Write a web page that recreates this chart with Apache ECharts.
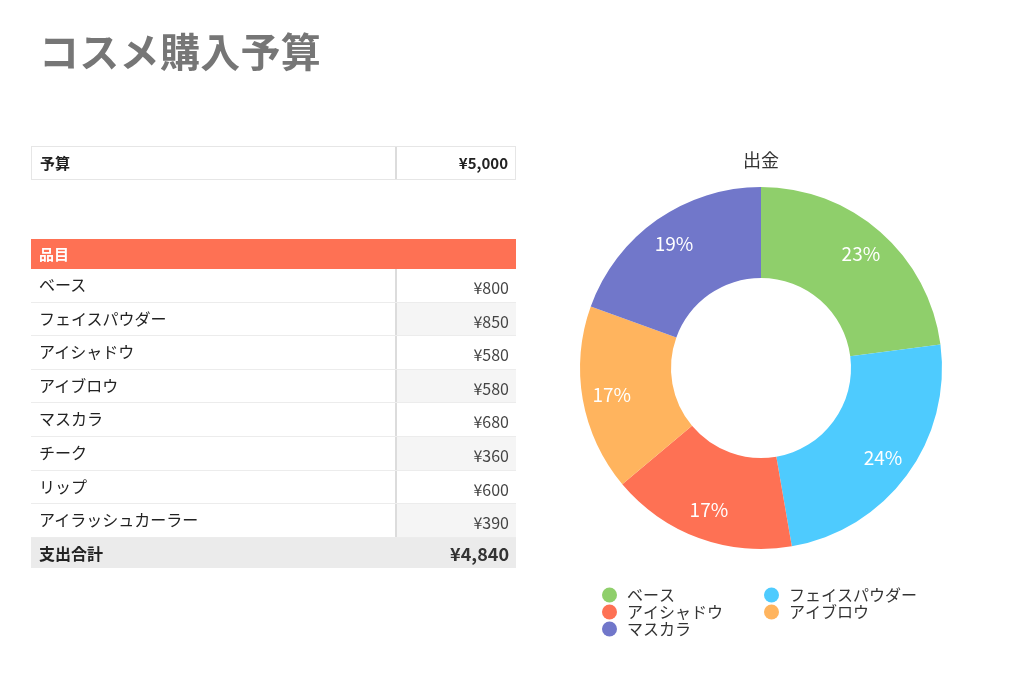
<!DOCTYPE html>
<html>
<head>
<meta charset="UTF-8">
<title>コスメ購入予算</title>
<script src="https://cdn.jsdelivr.net/npm/echarts@6/dist/echarts.min.js"></script>
<style>
  body { margin: 0; background: #fff; font-family: "Noto Sans CJK JP", "Noto Sans", sans-serif; }
  #main { position: absolute; left: 0; top: 0; width: 1024px; height: 674px; }
  #title { position: absolute; left: 39px; top: 23px; font-size: 40px; font-weight: bold; color: #767676; line-height: 54px; letter-spacing: 0.3px; }
  .tbl { position: absolute; left: 31px; width: 485px; color: #222; box-sizing: border-box; }
  .row { display: flex; box-sizing: border-box; }
  .row .k { width: 364px; padding-left: 8px; box-sizing: border-box; }
  .row .v { flex: 1; text-align: right; padding-right: 7px; border-left: 2px solid #dcdcdc; }
  #budget { top: 146px; border: 1px solid #e6e6e6; }
  #budget .row { height: 32px; line-height: 31px; font-weight: bold; font-size: 15px; }
  #budget .row .k { width: 363px; }
  #items .head { height: 30px; line-height: 30px; background: #fe7154; color: #fff; font-weight: bold; font-size: 15px; padding-left: 8px; }
  #items .row.item { height: 33.6px; line-height: 31px; border-bottom: 1px solid #ececec; font-size: 16px; }
  #items .row.item .v { font-size: 16px; color: #444; line-height: 36px; }
  #items .row.item.alt .v { background: #f5f5f5; }
  #items .row.total { height: 30px; line-height: 30px; background: #ebebeb; font-weight: bold; font-size: 16px; }
  #items .row.total .v { border-left: none; font-size: 18px; color: #333; }
</style>
</head>
<body>
<div id="main"></div>
<div id="title">コスメ購入予算</div>
<div class="tbl" id="budget"></div>
<div class="tbl" id="items" style="top:239px"></div>
<script type="text/javascript">
  // 品目と金額
  var itemNames = ['ベース', 'フェイスパウダー', 'アイシャドウ', 'アイブロウ', 'マスカラ', 'チーク', 'リップ', 'アイラッシュカーラー'];
  var itemPrices = [800, 850, 580, 580, 680, 360, 600, 390];
  var budget = 5000;
  // 円グラフに出す品目（先頭5つ）
  var pieNames = ['ベース', 'フェイスパウダー', 'アイシャドウ', 'アイブロウ', 'マスカラ'];
  var pieValues = [800, 850, 580, 580, 680];
  var pieColors = ['#8fcf6b', '#4ecbfe', '#fe7154', '#ffb45e', '#7177ca'];

  function yen(n) { return '¥' + n.toLocaleString('en-US'); }

  document.getElementById('budget').innerHTML =
    '<div class="row"><div class="k">予算</div><div class="v">' + yen(budget) + '</div></div>';

  var html = '<div class="head">品目</div>';
  var total = 0;
  for (var i = 0; i < itemNames.length; i++) {
    total += itemPrices[i];
    html += '<div class="row item' + (i % 2 ? ' alt' : '') + '"><div class="k">' + itemNames[i] +
      '</div><div class="v">' + yen(itemPrices[i]) + '</div></div>';
  }
  html += '<div class="row total"><div class="k">支出合計</div><div class="v">' + yen(total) + '</div></div>';
  document.getElementById('items').innerHTML = html;

  var pieData = pieNames.map(function (n, i) { return { name: n, value: pieValues[i] }; });

  var myChart = echarts.init(document.getElementById('main'));
  var option = {
    color: pieColors,
    textStyle: { fontFamily: '"Noto Sans CJK JP", sans-serif' },
    title: {
      text: '出金',
      left: 738, top: 146,
      textStyle: { fontSize: 18, fontWeight: 'normal', color: '#333' }
    },
    legend: [{
      data: ['ベース', 'アイシャドウ', 'マスカラ'],
      orient: 'vertical', left: 597, top: 582,
      icon: 'circle', itemWidth: 15, itemHeight: 15, itemGap: 1,
      textStyle: { fontSize: 16, color: '#333', padding: [0, 0, 0, 5] }
    }, {
      data: ['フェイスパウダー', 'アイブロウ'],
      orient: 'vertical', left: 759, top: 582,
      icon: 'circle', itemWidth: 15, itemHeight: 15, itemGap: 1,
      textStyle: { fontSize: 16, color: '#333', padding: [0, 0, 0, 5] }
    }],
    series: [{
      name: '出金',
      type: 'pie',
      center: [761, 368],
      radius: [90, 181],
      startAngle: 90,
      silent: true,
      label: { show: false },
      labelLine: { show: false },
      data: pieData
    }, {
      // ラベル用（透明）
      type: 'pie',
      center: [761, 368],
      radius: [116, 181],
      startAngle: 90,
      silent: true,
      percentPrecision: 0,
      itemStyle: { color: 'rgba(0,0,0,0)' },
      label: { show: true, position: 'inside', formatter: '{d}%', color: '#fff', fontSize: 19 },
      labelLine: { show: false },
      data: pieData
    }]
  };
  myChart.setOption(option);
</script>
</body>
</html>
